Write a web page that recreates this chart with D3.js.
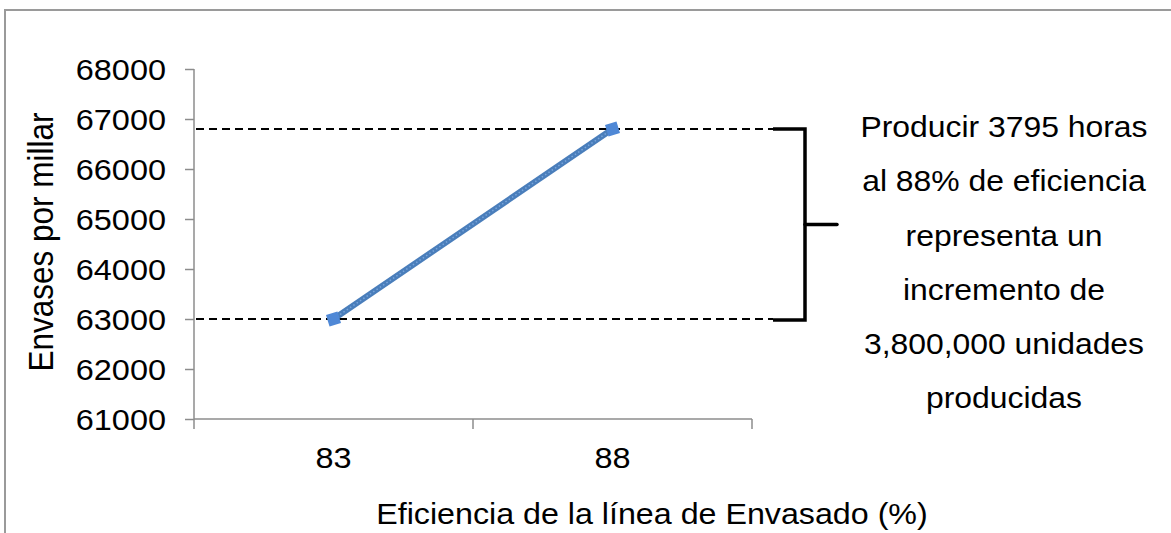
<!DOCTYPE html>
<html>
<head>
<meta charset="utf-8">
<script src="https://cdn.jsdelivr.net/npm/d3@7"></script>
<style>
  html, body { margin: 0; padding: 0; background: #fff; }
  svg { display: block; }
  text { font-family: "Liberation Sans", Arial, sans-serif; fill: #000; }
</style>
</head>
<body>
<svg id="chart" width="1171" height="533"></svg>
<script>
// ---- data ----
const categories = ["83", "88"];
const values = [63000, 66800];
const yTicks = [61000, 62000, 63000, 64000, 65000, 66000, 67000, 68000];
const yTitle = "Envases por millar";
const xTitle = "Eficiencia de la línea de Envasado (%)";
const noteLines = ["Producir 3795 horas", "al 88% de eficiencia", "representa un",
                   "incremento de", "3,800,000 unidades", "producidas"];

// ---- layout ----
const W = 1171, H = 533;
const plot = { left: 194, right: 752, top: 69, bottom: 419 };
const SX = 1.1; // horizontal text stretch seen in the reference
const svg = d3.select("#chart");

function stretch(sel) {
  sel.each(function () {
    const t = d3.select(this);
    const x0 = +t.attr("x") || 0;
    t.attr("transform", `translate(${x0},0) scale(${SX},1) translate(${-x0},0)`);
  });
}

// outer frame (only left & top visible)
svg.append("rect").attr("x", 5).attr("y", 10).attr("width", W + 20).attr("height", H + 20)
  .attr("fill", "none").attr("stroke", "#9a9a9a").attr("stroke-width", 2);

const x = d3.scaleBand().domain(categories).range([plot.left, plot.right]).padding(0);
const y = d3.scaleLinear().domain([d3.min(yTicks), d3.max(yTicks)]).range([plot.bottom, plot.top]);
const cx = d => x(d) + x.bandwidth() / 2;

// y axis
const yAxis = svg.append("g").attr("transform", `translate(${plot.left},0)`)
  .call(d3.axisLeft(y).tickValues(yTicks).tickSize(9).tickPadding(19).tickFormat(d3.format("d")));
yAxis.selectAll("line, path").attr("stroke", "#8c8c8c").attr("stroke-width", 1.5);
yAxis.select("path").attr("d", `M0,${plot.top}V${plot.bottom}`);
yAxis.selectAll("text").style("font-size", "29.5px").attr("dy", "0.36em").call(stretch);

// x axis
const xAxis = svg.append("g").attr("transform", `translate(0,${plot.bottom})`)
  .call(d3.axisBottom(x).tickSize(0).tickPadding(28));
xAxis.select("path").attr("d", `M${plot.left},0H${plot.right}`)
  .attr("stroke", "#8c8c8c").attr("stroke-width", 1.5);
xAxis.selectAll("text").style("font-size", "29.5px").call(stretch);
const edges = categories.map(c => x(c)).concat([x(categories[categories.length - 1]) + x.bandwidth()]);
xAxis.selectAll("line.edge").data(edges).join("line").attr("class", "edge")
  .attr("x1", d => d).attr("x2", d => d).attr("y1", 0).attr("y2", 10)
  .attr("stroke", "#8c8c8c").attr("stroke-width", 1.5);

// axis titles
svg.append("text").attr("transform", `translate(53,242) scale(${SX},1) rotate(-90)`)
  .attr("text-anchor", "middle").style("font-size", "31.5px").text(yTitle);
svg.append("text").attr("x", 652).attr("y", 524)
  .attr("text-anchor", "middle").style("font-size", "29.3px").text(xTitle).call(stretch);

// dashed reference lines at each data value
const bracketX = 805, dashEnd = 773;
values.forEach(v => {
  svg.append("line").attr("x1", plot.left + 2).attr("x2", dashEnd)
    .attr("y1", y(v)).attr("y2", y(v))
    .attr("stroke", "#000").attr("stroke-width", 2).attr("stroke-dasharray", "8,5");
});

// bracket
const yTop = y(d3.max(values)), yBot = y(d3.min(values)) + 1;
svg.append("path")
  .attr("d", `M${dashEnd},${yTop}H${bracketX}V${yBot}H${dashEnd}`)
  .attr("fill", "none").attr("stroke", "#000").attr("stroke-width", 3.5);
svg.append("line").attr("x1", bracketX).attr("x2", 837)
  .attr("y1", (yTop + yBot) / 2).attr("y2", (yTop + yBot) / 2)
  .attr("stroke", "#000").attr("stroke-width", 3.5).attr("stroke-linecap", "round");

// series line
const pts = categories.map((c, i) => [cx(c), y(values[i])]);
const line = d3.line();
svg.append("path").attr("d", line(pts)).attr("fill", "none")
  .attr("stroke", "#4a7ebb").attr("stroke-width", 6);
svg.append("path").attr("d", line(pts)).attr("fill", "none")
  .attr("stroke", "#7aa6dc").attr("stroke-width", 1.5).attr("stroke-dasharray", "1.5,2.5");

// markers
const ang = Math.atan2(pts[1][1] - pts[0][1], pts[1][0] - pts[0][0]) * 180 / Math.PI;
svg.selectAll("rect.mk").data(pts).join("rect").attr("class", "mk")
  .attr("x", -6).attr("y", -6).attr("width", 12).attr("height", 12)
  .attr("transform", d => `translate(${d[0]},${d[1]}) rotate(${ang / 2})`)
  .attr("fill", "#4f88d6");

// annotation text
svg.append("g").selectAll("text").data(noteLines).join("text")
  .attr("x", 1004).attr("y", (d, i) => 137 + i * 54.3)
  .attr("text-anchor", "middle").style("font-size", "29px").text(d => d).call(stretch);
</script>
</body>
</html>
